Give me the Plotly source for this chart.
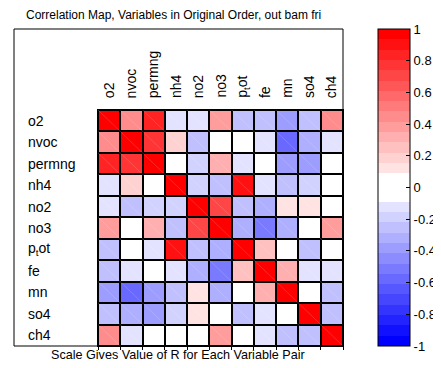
import plotly.graph_objects as go

variables = ["o2", "nvoc", "permng", "nh4", "no2", "no3", "p<sub>t</sub>ot", "fe", "mn", "so4", "ch4"]

r_o2     = [1.00, 0.45, 0.85, -0.12, -0.14, 0.40, -0.22, -0.28, -0.38, -0.24, 0.45]
r_nvoc   = [0.45, 1.00, 0.80, 0.18, -0.28, 0.05, 0.00, -0.14, -0.55, -0.35, -0.12]
r_permng = [0.85, 0.80, 1.00, 0.00, -0.20, 0.30, -0.12, 0.00, -0.36, -0.36, 0.00]
r_nh4    = [-0.12, 0.18, 0.00, 1.00, -0.18, -0.28, 0.92, -0.12, -0.28, -0.16, 0.00]
r_no2    = [-0.14, -0.28, -0.20, -0.18, 1.00, 0.72, -0.24, -0.32, 0.12, 0.12, 0.00]
r_no3    = [0.40, 0.05, 0.30, -0.28, 0.72, 1.00, -0.32, -0.52, -0.32, 0.00, 0.40]
r_ptot   = [-0.22, 0.00, -0.12, 0.92, -0.24, -0.32, 1.00, 0.22, 0.00, -0.26, 0.00]
r_fe     = [-0.28, -0.14, 0.00, -0.12, -0.32, -0.52, 0.22, 1.00, 0.33, -0.12, -0.14]
r_mn     = [-0.38, -0.55, -0.36, -0.28, 0.12, -0.32, 0.00, 0.33, 1.00, 0.00, -0.28]
r_so4    = [-0.24, -0.35, -0.36, -0.16, 0.12, 0.00, -0.26, -0.12, 0.00, 1.00, -0.24]
r_ch4    = [0.45, -0.12, 0.00, 0.00, 0.00, 0.40, 0.00, -0.14, -0.28, -0.24, 1.00]

matrix = [r_o2, r_nvoc, r_permng, r_nh4, r_no2, r_no3, r_ptot, r_fe, r_mn, r_so4, r_ch4]

cbar_ticks = [1, 0.8, 0.6, 0.4, 0.2, 0, -0.2, -0.4, -0.6, -0.8, -1]
cbar_text = ["1", "0.8", "0.6", "0.4", "0.2", "0", "-0.2", "-0.4", "-0.6", "-0.8", "-1"]

title_text = "Correlation Map, Variables in Original Order, out bam fri"
bottom_text = "Scale Gives Value of R for Each Variable Pair"

FONT = "Liberation Sans, Arial, sans-serif"

# stepped blue-white-red colorscale
white_half = 0.09
nb = 14
step = (1 - white_half) / nb
cs = []
def pos(v):
    return (v + 1) / 2
bounds = []
for k in range(nb - 1, -1, -1):
    lo = -(white_half + (k + 1) * step)
    hi = -(white_half + k * step)
    s = (k + 1.6) / (nb + 0.6)
    c = int(round(255 * (1 - s)))
    bounds.append((lo, hi, f"rgb({c},{c},255)"))
bounds.append((-white_half, white_half, "rgb(255,255,255)"))
for k in range(nb):
    lo = white_half + k * step
    hi = white_half + (k + 1) * step
    s = (k + 1.6) / (nb + 0.6)
    c = int(round(255 * (1 - s)))
    bounds.append((lo, hi, f"rgb(255,{c},{c})"))
for lo, hi, col in bounds:
    cs.append([max(0.0, pos(lo)), col])
    cs.append([min(1.0, pos(hi)), col])
cs[0][0] = 0.0
cs[-1][0] = 1.0

n = len(variables)
idx = list(range(n))

# page body has an 8px margin: lay the figure out in window pixels minus 8,
# and keep the page from overflowing the window (no scrollbars)
OFF = 8
W, H = 441 - OFF, 368 - 2 * OFF
GX0, GX1, GY0, GY1 = 98 - OFF, 343 - OFF, 110 - OFF, 346 - OFF
L, R, T, B = GX0, W - GX1, GY0, H - GY1
pw, ph = GX1 - GX0, GY1 - GY0

def px_x(X):
    return (X - OFF - L) / pw

def px_y(Y):
    return (GY1 - (Y - OFF)) / ph

fig = go.Figure()
fig.add_trace(go.Heatmap(
    z=matrix, x=idx, y=idx,
    zmin=-1, zmax=1, colorscale=cs,
    xgap=2, ygap=2,
    hoverinfo="skip",
    colorbar=dict(
        x=px_x(378), xanchor="left",
        y=px_y(29), yanchor="top",
        lenmode="pixels", len=317,
        thicknessmode="pixels", thickness=32,
        outlinewidth=1, outlinecolor="black",
        xpad=0, ypad=0,
        ticks="inside", ticklen=4, tickcolor="black",
        tickvals=cbar_ticks, ticktext=cbar_text,
        tickfont=dict(family=FONT, size=13, color="black"),
    ),
))

shapes = []
for i in idx:
    for j in idx:
        shapes.append(dict(type="line", xref="x", yref="y",
                           x0=j - 0.5, y0=i - 0.5, x1=j + 0.5, y1=i + 0.5,
                           line=dict(color="rgba(255,255,255,0.15)", width=1)))
shapes.append(dict(type="rect", xref="paper", yref="paper",
                   x0=px_x(14), x1=1, y0=0, y1=px_y(29),
                   line=dict(color="black", width=1)))

annotations = []
for i, v in enumerate(variables):
    annotations.append(dict(text=v, xref="paper", yref="y", x=px_x(26), y=i,
                            xanchor="left", yanchor="middle", showarrow=False,
                            font=dict(family=FONT, size=14, color="black")))
    annotations.append(dict(text=v, xref="x", yref="paper", x=i, y=px_y(100),
                            xanchor="center", yanchor="bottom", textangle=-90,
                            showarrow=False,
                            font=dict(family=FONT, size=14, color="black")))
annotations.append(dict(text=title_text, xref="paper", yref="paper",
                        x=px_x(24), y=px_y(15), xanchor="left", yanchor="middle",
                        showarrow=False, font=dict(family=FONT, size=12, color="black")))
annotations.append(dict(text=bottom_text, xref="paper", yref="paper",
                        x=px_x(178), y=px_y(355), xanchor="center", yanchor="middle",
                        borderpad=0,
                        showarrow=False, font=dict(family=FONT, size=12.6, color="black")))

fig.update_layout(
    width=W, height=H,
    margin=dict(l=L, r=R, t=T, b=B, pad=0, autoexpand=False),
    paper_bgcolor="white", plot_bgcolor="black",
    shapes=shapes, annotations=annotations,
    xaxis=dict(range=[-0.5, n - 0.5], tickvals=[k - 0.5 for k in range(n + 1)],
               ticks="outside", ticklen=3, tickcolor="black", showticklabels=False,
               showgrid=False, zeroline=False, showline=True, linecolor="black",
               linewidth=1, mirror=True, fixedrange=True),
    yaxis=dict(range=[n - 0.5, -0.5], showticklabels=False, ticks="",
               showgrid=False, zeroline=False, showline=True, linecolor="black",
               linewidth=1, mirror=True, fixedrange=True),
    showlegend=False,
)

fig.write_html("out.html")
